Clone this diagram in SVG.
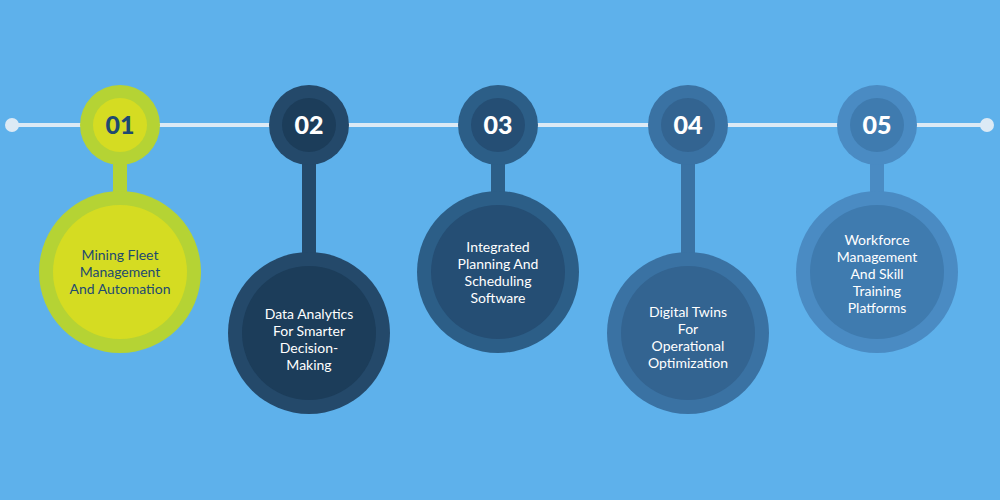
<svg xmlns="http://www.w3.org/2000/svg" width="1000" height="500" viewBox="0 0 1000 500">
<style>
.lbl{font-family:Lato,"Liberation Sans",sans-serif;font-size:14px;text-anchor:middle;fill:#fff}
.num{font-family:Lato,"Liberation Sans",sans-serif;font-size:25px;font-weight:900;text-anchor:middle;fill:#fff}
.dk{fill:#1E4A70}
</style>
<rect width="1000" height="500" fill="#5EB1EB"/>
<g id="connectors">
<line x1="12" y1="125" x2="987" y2="125" stroke="#DCEAF5" stroke-width="4"/>
<circle cx="12" cy="125" r="7" fill="#DCEAF5"/>
<circle cx="987" cy="125" r="7" fill="#DCEAF5"/>
</g>
<g id="n1">
<rect x="113" y="150" width="14" height="50" fill="#B5D334"/>
<circle cx="120" cy="125" r="40" fill="#B5D334"/><circle cx="120" cy="125" r="27" fill="#D5DC22"/>
<text class="num dk" x="120" y="134">01</text>
<circle cx="120" cy="272" r="81" fill="#B5D334"/><circle cx="120" cy="272" r="67" fill="#D5DC22"/>
<text class="lbl dk" x="120" y="260">Mining Fleet</text><text class="lbl dk" x="120" y="277">Management</text><text class="lbl dk" x="120" y="294">And Automation</text>
</g>
<g id="n2">
<rect x="302" y="150" width="14" height="110" fill="#24496A"/>
<circle cx="309" cy="125" r="40" fill="#24496A"/><circle cx="309" cy="125" r="27" fill="#1C3D5A"/>
<text class="num" x="309" y="134">02</text>
<circle cx="309" cy="333" r="81" fill="#24496A"/><circle cx="309" cy="333" r="67" fill="#1C3D5A"/>
<text class="lbl" x="309" y="319">Data Analytics</text><text class="lbl" x="309" y="336">For Smarter</text><text class="lbl" x="309" y="353">Decision-</text><text class="lbl" x="309" y="370">Making</text>
</g>
<g id="n3">
<rect x="491" y="150" width="14" height="50" fill="#2C5E87"/>
<circle cx="498" cy="125" r="40" fill="#2C5E87"/><circle cx="498" cy="125" r="27" fill="#254E74"/>
<text class="num" x="498" y="134">03</text>
<circle cx="498" cy="272" r="81" fill="#2C5E87"/><circle cx="498" cy="272" r="67" fill="#254E74"/>
<text class="lbl" x="498" y="252">Integrated</text><text class="lbl" x="498" y="269">Planning And</text><text class="lbl" x="498" y="286">Scheduling</text><text class="lbl" x="498" y="303">Software</text>
</g>
<g id="n4">
<rect x="681" y="150" width="14" height="110" fill="#3A72A3"/>
<circle cx="688" cy="125" r="40" fill="#3A72A3"/><circle cx="688" cy="125" r="27" fill="#336491"/>
<text class="num" x="688" y="134">04</text>
<circle cx="688" cy="333" r="81" fill="#3A72A3"/><circle cx="688" cy="333" r="67" fill="#336491"/>
<text class="lbl" x="688" y="317">Digital Twins</text><text class="lbl" x="688" y="334">For</text><text class="lbl" x="688" y="351">Operational</text><text class="lbl" x="688" y="368">Optimization</text>
</g>
<g id="n5">
<rect x="870" y="150" width="14" height="50" fill="#4A8BC3"/>
<circle cx="877" cy="125" r="40" fill="#4A8BC3"/><circle cx="877" cy="125" r="27" fill="#3F7BAF"/>
<text class="num" x="877" y="134">05</text>
<circle cx="877" cy="272" r="81" fill="#4A8BC3"/><circle cx="877" cy="272" r="67" fill="#3F7BAF"/>
<text class="lbl" x="877" y="245">Workforce</text><text class="lbl" x="877" y="262">Management</text><text class="lbl" x="877" y="279">And Skill</text><text class="lbl" x="877" y="296">Training</text><text class="lbl" x="877" y="313">Platforms</text>
</g>
</svg>
